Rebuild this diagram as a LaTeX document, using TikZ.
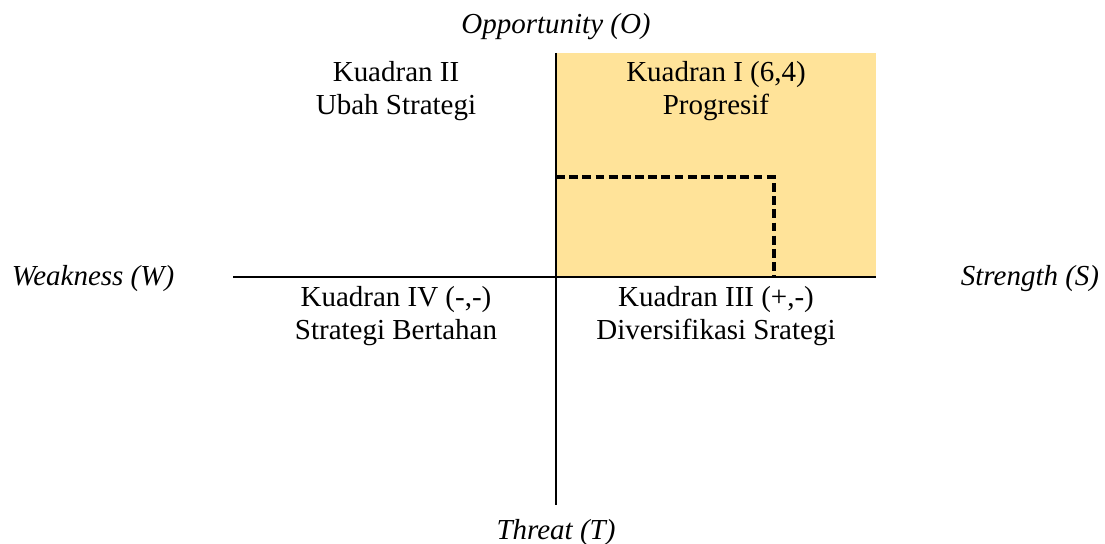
\documentclass[tikz,border=0pt]{standalone}
\usepackage{fontspec}
\setmainfont{Liberation Serif}
\usepackage{tikz}
\usetikzlibrary{positioning}

\definecolor{kuning}{RGB}{255,227,153}

\begin{document}
\begin{tikzpicture}[x=0.02cm, y=-0.02cm]
		\tikzstyle{label} = [font = \fontsize{16.5}{18.5}\selectfont, align = center, inner sep = 0pt]
		\tikzstyle{sumbu} = [font = \fontsize{16.5}{18.5}\selectfont\itshape, inner sep = 0pt]
		\useasboundingbox (0, 0) rectangle (1105, 544);
	% Kuadran I
		\fill[kuning] (556, 53) rectangle (876, 277);
	% Sumbu
		\coordinate (top) at (556, 53);
		\coordinate (bottom) at (556, 505);
		\coordinate (left) at (233, 277);
		\coordinate (right) at (876, 277);
		\coordinate (origin) at (556, 277);
		\coordinate (corner) at (774, 177);
		\draw[line width = 1pt] (top) -- (bottom);
		\draw[line width = 1pt] (left) -- (right);
		\draw[line width = 2pt, dash pattern = on 5pt off 2.5pt] (origin |- corner) -- (corner) -- (corner |- origin);

	% Nodos
		\node[label] (k2) at (396, 91) {Kuadran II\\Ubah Strategi};
		\node[label] (k1) at (716, 91) {Kuadran I (6,4)\\Progresif};
		\node[label] (k4) at (396, 316) {Kuadran IV (-,-)\\Strategi Bertahan};
		\node[label] (k3) at (716, 316) {Kuadran III (+,-)\\Diversifikasi Srategi};

		\node[sumbu] (o) at (556, 27) {Opportunity (O)};
		\node[sumbu] (t) at (556, 533) {Threat (T)};
		\node[sumbu] (w) at (93, 279) {Weakness (W)};
		\node[sumbu] (s) at (1030, 279) {Strength (S)};
	\end{tikzpicture}
\end{document}
